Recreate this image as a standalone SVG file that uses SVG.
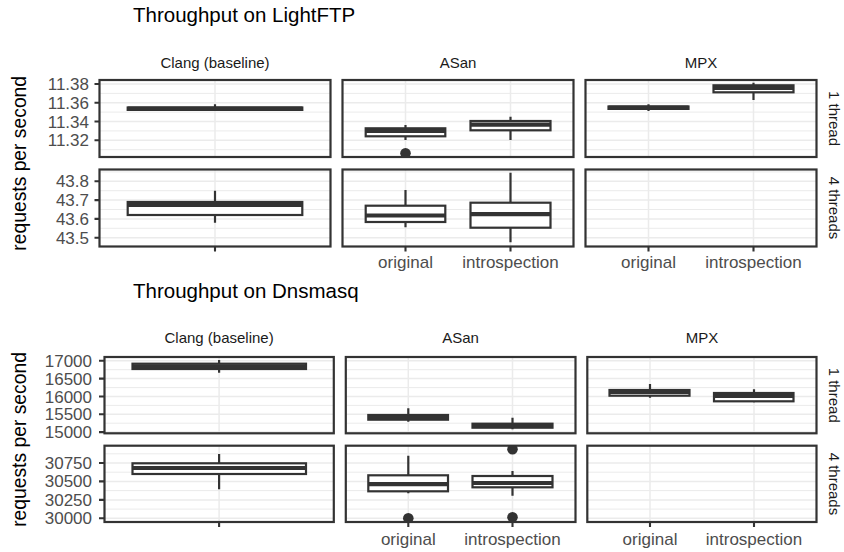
<svg xmlns="http://www.w3.org/2000/svg" width="844" height="552" viewBox="0 0 844 552">
<style>
.bg{fill:#fff}
.gM{stroke:#EBEBEB;stroke-width:1.5;fill:none}
.gm{stroke:#EBEBEB;stroke-width:1;fill:none}
.pan{fill:none;stroke:#333;stroke-width:2.2}
.box{fill:#fff;stroke:#333;stroke-width:2.2}
.med{stroke:#333;stroke-width:4.2;fill:none}
.wh{stroke:#333;stroke-width:2.2;fill:none}
.tk{stroke:#333;stroke-width:2.1;fill:none}
.out{fill:#333}
text{font-family:"Liberation Sans",Arial,sans-serif}
.title{font-size:20.5px;fill:#000}
.ytitle{font-size:19.3px;fill:#000}
.ylab{font-size:17px;fill:#4D4D4D;text-anchor:end}
.xlab{font-size:17px;fill:#4D4D4D;text-anchor:middle}
.strip{font-size:15px;fill:#1A1A1A;text-anchor:middle}
</style>
<defs>
<clipPath id="cT1a"><rect x="99.5" y="80" width="231" height="77"/></clipPath>
<clipPath id="cT1b"><rect x="342.5" y="80" width="231" height="77"/></clipPath>
<clipPath id="cT1c"><rect x="585.5" y="80" width="231" height="77"/></clipPath>
<clipPath id="cT2a"><rect x="99.5" y="169.5" width="231" height="77"/></clipPath>
<clipPath id="cT2b"><rect x="342.5" y="169.5" width="231" height="77"/></clipPath>
<clipPath id="cB1a"><rect x="104.5" y="357" width="229.3" height="76.3"/></clipPath>
<clipPath id="cB1b"><rect x="345.8" y="357" width="229.7" height="76.3"/></clipPath>
<clipPath id="cB1c"><rect x="587.3" y="357" width="229.2" height="76.3"/></clipPath>
<clipPath id="cB2a"><rect x="104.5" y="445.7" width="229.3" height="76.3"/></clipPath>
<clipPath id="cB2b"><rect x="345.8" y="445.7" width="229.7" height="76.3"/></clipPath>
</defs>
<rect class="bg" x="0" y="0" width="844" height="552"/>

<!-- ===== Top chart: LightFTP ===== -->
<text class="title" x="133" y="22">Throughput on LightFTP</text>
<text class="ytitle" transform="translate(26,163.3) rotate(-90)" text-anchor="middle">requests per second</text>

<g id="top-strips">
<text class="strip" x="215" y="67.5">Clang (baseline)</text>
<text class="strip" x="458" y="67.5">ASan</text>
<text class="strip" x="701" y="67.5">MPX</text>
<text class="strip" transform="translate(828.5,118.5) rotate(90)">1 thread</text>
<text class="strip" transform="translate(828.5,208) rotate(90)">4 threads</text>
</g>

<g id="top-yaxis">
<path class="tk" d="M94.5 84H99.5M94.5 102.8H99.5M94.5 121.5H99.5M94.5 140.3H99.5M94.5 181.3H99.5M94.5 200.1H99.5M94.5 218.9H99.5M94.5 237.7H99.5"/>
<text class="ylab" x="89" y="90">11.38</text>
<text class="ylab" x="89" y="108.8">11.36</text>
<text class="ylab" x="89" y="127.5">11.34</text>
<text class="ylab" x="89" y="146.3">11.32</text>
<text class="ylab" x="89" y="187.3">43.8</text>
<text class="ylab" x="89" y="206.1">43.7</text>
<text class="ylab" x="89" y="224.9">43.6</text>
<text class="ylab" x="89" y="243.7">43.5</text>
</g>

<g id="top-xaxis">
<path class="tk" d="M215 246.5V251.5M405.5 246.5V251.5M510.5 246.5V251.5M648.5 246.5V251.5M753.5 246.5V251.5"/>
<text class="xlab" x="405.5" y="268">original</text>
<text class="xlab" x="510.5" y="268">introspection</text>
<text class="xlab" x="648.5" y="268">original</text>
<text class="xlab" x="753.5" y="268">introspection</text>
</g>

<g id="T1-clang">
<g clip-path="url(#cT1a)">
<path class="gm" d="M99.5 93.4H330.5M99.5 112.1H330.5M99.5 130.9H330.5M99.5 149.7H330.5"/>
<path class="gM" d="M99.5 84H330.5M99.5 102.8H330.5M99.5 121.5H330.5M99.5 140.3H330.5M215 80V157"/>
<path class="wh" d="M215 104.3V111"/>
<rect class="box" x="127.7" y="107.5" width="174.6" height="2.4"/>
<path class="med" d="M127.7 108.7H302.3"/>
</g>
<rect class="pan" x="99.5" y="80" width="231" height="77"/>
</g>

<g id="T1-asan">
<g clip-path="url(#cT1b)">
<path class="gm" d="M342.5 93.4H573.5M342.5 112.1H573.5M342.5 130.9H573.5M342.5 149.7H573.5"/>
<path class="gM" d="M342.5 84H573.5M342.5 102.8H573.5M342.5 121.5H573.5M342.5 140.3H573.5M405.5 80V157M510.5 80V157"/>
<path class="wh" d="M405.5 125V140"/>
<rect class="box" x="365.7" y="128.3" width="79.6" height="8"/>
<path class="med" d="M365.7 131H445.3"/>
<circle class="out" cx="405.5" cy="153.3" r="5.3"/>
<path class="wh" d="M510.5 116.7V140"/>
<rect class="box" x="470.5" y="121" width="80" height="9.3"/>
<path class="med" d="M470.5 124.6H550.5"/>
</g>
<rect class="pan" x="342.5" y="80" width="231" height="77"/>
</g>

<g id="T1-mpx">
<g clip-path="url(#cT1c)">
<path class="gm" d="M585.5 93.4H816.5M585.5 112.1H816.5M585.5 130.9H816.5M585.5 149.7H816.5"/>
<path class="gM" d="M585.5 84H816.5M585.5 102.8H816.5M585.5 121.5H816.5M585.5 140.3H816.5M648.5 80V157M753.5 80V157"/>
<path class="wh" d="M648.5 104.3V111"/>
<rect class="box" x="608.5" y="106.5" width="80" height="2.4"/>
<path class="med" d="M608.5 107.7H688.5"/>
<path class="wh" d="M753.5 82.7V100"/>
<rect class="box" x="713.5" y="85.3" width="80" height="7"/>
<path class="med" d="M713.5 88H793.5"/>
</g>
<rect class="pan" x="585.5" y="80" width="231" height="77"/>
</g>

<g id="T2-clang">
<g clip-path="url(#cT2a)">
<path class="gm" d="M99.5 171.9H330.5M99.5 190.7H330.5M99.5 209.5H330.5M99.5 228.3H330.5"/>
<path class="gM" d="M99.5 181.3H330.5M99.5 200.1H330.5M99.5 218.9H330.5M99.5 237.7H330.5M215 169.5V246.5"/>
<path class="wh" d="M215 190.7V222.7"/>
<rect class="box" x="127.7" y="202" width="174.6" height="13"/>
<path class="med" d="M127.7 205H302.3"/>
</g>
<rect class="pan" x="99.5" y="169.5" width="231" height="77"/>
</g>

<g id="T2-asan">
<g clip-path="url(#cT2b)">
<path class="gm" d="M342.5 171.9H573.5M342.5 190.7H573.5M342.5 209.5H573.5M342.5 228.3H573.5"/>
<path class="gM" d="M342.5 181.3H573.5M342.5 200.1H573.5M342.5 218.9H573.5M342.5 237.7H573.5M405.5 169.5V246.5M510.5 169.5V246.5"/>
<path class="wh" d="M405.5 190V227.3"/>
<rect class="box" x="365.7" y="205.7" width="79.6" height="16.3"/>
<path class="med" d="M365.7 215.5H445.3"/>
<path class="wh" d="M510.5 172.7V242.3"/>
<rect class="box" x="470.5" y="202.7" width="80" height="25"/>
<path class="med" d="M470.5 214.2H550.5"/>
</g>
<rect class="pan" x="342.5" y="169.5" width="231" height="77"/>
</g>

<g id="T2-mpx">
<path class="gm" d="M585.5 171.9H816.5M585.5 190.7H816.5M585.5 209.5H816.5M585.5 228.3H816.5"/>
<path class="gM" d="M585.5 181.3H816.5M585.5 200.1H816.5M585.5 218.9H816.5M585.5 237.7H816.5M648.5 169.5V246.5M753.5 169.5V246.5"/>
<rect class="pan" x="585.5" y="169.5" width="231" height="77"/>
</g>

<!-- ===== Bottom chart: Dnsmasq ===== -->
<text class="title" x="133" y="298">Throughput on Dnsmasq</text>
<text class="ytitle" transform="translate(26,439.5) rotate(-90)" text-anchor="middle">requests per second</text>

<g id="bottom-strips">
<text class="strip" x="219.1" y="343">Clang (baseline)</text>
<text class="strip" x="460.6" y="343">ASan</text>
<text class="strip" x="701.9" y="343">MPX</text>
<text class="strip" transform="translate(828.5,395.2) rotate(90)">1 thread</text>
<text class="strip" transform="translate(828.5,483.9) rotate(90)">4 threads</text>
</g>

<g id="bottom-yaxis">
<path class="tk" d="M99 360.8H104.5M99 378.6H104.5M99 396.5H104.5M99 414.3H104.5M99 432.1H104.5M99 463H104.5M99 481.4H104.5M99 499.9H104.5M99 518.3H104.5"/>
<text class="ylab" x="92" y="366.8">17000</text>
<text class="ylab" x="92" y="384.6">16500</text>
<text class="ylab" x="92" y="402.5">16000</text>
<text class="ylab" x="92" y="420.3">15500</text>
<text class="ylab" x="92" y="438.1">15000</text>
<text class="ylab" x="92" y="469">30750</text>
<text class="ylab" x="92" y="487.4">30500</text>
<text class="ylab" x="92" y="505.9">30250</text>
<text class="ylab" x="92" y="524.3">30000</text>
</g>

<g id="bottom-xaxis">
<path class="tk" d="M219.1 522V527M408.3 522V527M512.5 522V527M650 522V527M754 522V527"/>
<text class="xlab" x="408.3" y="545">original</text>
<text class="xlab" x="512.5" y="545">introspection</text>
<text class="xlab" x="650" y="545">original</text>
<text class="xlab" x="754" y="545">introspection</text>
</g>

<g id="B1-clang">
<g clip-path="url(#cB1a)">
<path class="gm" d="M104.5 369.7H333.8M104.5 387.6H333.8M104.5 405.4H333.8M104.5 423.2H333.8"/>
<path class="gM" d="M104.5 360.8H333.8M104.5 378.6H333.8M104.5 396.5H333.8M104.5 414.3H333.8M104.5 432.1H333.8M219.1 357V433.3"/>
<path class="wh" d="M219.1 360V372.7"/>
<rect class="box" x="132.5" y="363.7" width="173.5" height="5.3"/>
<path class="med" d="M132.5 366.3H306"/>
</g>
<rect class="pan" x="104.5" y="357" width="229.3" height="76.3"/>
</g>

<g id="B1-asan">
<g clip-path="url(#cB1b)">
<path class="gm" d="M345.8 369.7H575.5M345.8 387.6H575.5M345.8 405.4H575.5M345.8 423.2H575.5"/>
<path class="gM" d="M345.8 360.8H575.5M345.8 378.6H575.5M345.8 396.5H575.5M345.8 414.3H575.5M345.8 432.1H575.5M408.3 357V433.3M512.5 357V433.3"/>
<path class="wh" d="M408.3 408.3V421.7"/>
<rect class="box" x="368.3" y="415" width="79.7" height="4.7"/>
<path class="med" d="M368.3 417.3H448"/>
<path class="wh" d="M512.5 417.7V429.3"/>
<rect class="box" x="472.5" y="423.7" width="80" height="4"/>
<path class="med" d="M472.5 425.7H552.5"/>
</g>
<rect class="pan" x="345.8" y="357" width="229.7" height="76.3"/>
</g>

<g id="B1-mpx">
<g clip-path="url(#cB1c)">
<path class="gm" d="M587.3 369.7H816.5M587.3 387.6H816.5M587.3 405.4H816.5M587.3 423.2H816.5"/>
<path class="gM" d="M587.3 360.8H816.5M587.3 378.6H816.5M587.3 396.5H816.5M587.3 414.3H816.5M587.3 432.1H816.5M650 357V433.3M754 357V433.3"/>
<path class="wh" d="M650 384V397.7"/>
<rect class="box" x="609.5" y="390" width="80" height="5.7"/>
<path class="med" d="M609.5 392H689.5"/>
<path class="wh" d="M754 389.3V402.3"/>
<rect class="box" x="714" y="393" width="79.5" height="8.3"/>
<path class="med" d="M714 396H793.5"/>
</g>
<rect class="pan" x="587.3" y="357" width="229.2" height="76.3"/>
</g>

<g id="B2-clang">
<g clip-path="url(#cB2a)">
<path class="gm" d="M104.5 453.8H333.8M104.5 472.2H333.8M104.5 490.6H333.8M104.5 509.1H333.8"/>
<path class="gM" d="M104.5 463H333.8M104.5 481.4H333.8M104.5 499.9H333.8M104.5 518.3H333.8M219.1 445.7V522"/>
<path class="wh" d="M219.1 454V489.3"/>
<rect class="box" x="132.5" y="463.3" width="173.5" height="10.7"/>
<path class="med" d="M132.5 468H306"/>
</g>
<rect class="pan" x="104.5" y="445.7" width="229.3" height="76.3"/>
</g>

<g id="B2-asan">
<g clip-path="url(#cB2b)">
<path class="gm" d="M345.8 453.8H575.5M345.8 472.2H575.5M345.8 490.6H575.5M345.8 509.1H575.5"/>
<path class="gM" d="M345.8 463H575.5M345.8 481.4H575.5M345.8 499.9H575.5M345.8 518.3H575.5M408.3 445.7V522M512.5 445.7V522"/>
<path class="wh" d="M408.3 455.7V493.3"/>
<rect class="box" x="368.3" y="475.3" width="79.7" height="16"/>
<path class="med" d="M368.3 484.2H448"/>
<circle class="out" cx="408.3" cy="518.3" r="5.3"/>
<path class="wh" d="M512.5 471V495.7"/>
<rect class="box" x="472.5" y="476" width="80" height="11.3"/>
<path class="med" d="M472.5 483H552.5"/>
<circle class="out" cx="512.5" cy="449.3" r="5.3"/>
<circle class="out" cx="512.5" cy="517.3" r="5.3"/>
</g>
<rect class="pan" x="345.8" y="445.7" width="229.7" height="76.3"/>
</g>

<g id="B2-mpx">
<path class="gm" d="M587.3 453.8H816.5M587.3 472.2H816.5M587.3 490.6H816.5M587.3 509.1H816.5"/>
<path class="gM" d="M587.3 463H816.5M587.3 481.4H816.5M587.3 499.9H816.5M587.3 518.3H816.5M650 445.7V522M754 445.7V522"/>
<rect class="pan" x="587.3" y="445.7" width="229.2" height="76.3"/>
</g>
</svg>
